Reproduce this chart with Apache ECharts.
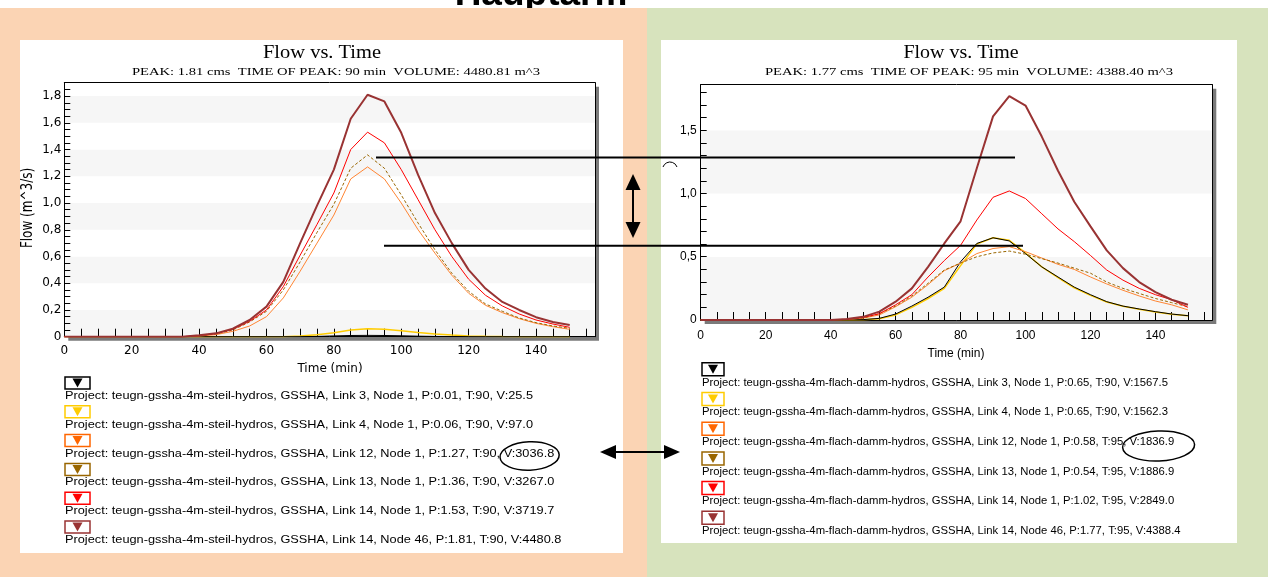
<!doctype html>
<html>
<head>
<meta charset="utf-8">
<title>Hauptarm - Flow vs. Time</title>
<script src="https://cdn.jsdelivr.net/npm/echarts@6/dist/echarts.min.js"></script>
<style>
html, body { margin: 0; padding: 0; background: #fff; }
#chart { width: 1268px; height: 577px; }
</style>
</head>
<body>
<div id="chart"></div>
<script>
// Zeitachse (min)
var times = [0,5,10,15,20,25,30,35,40,45,50,55,60,65,70,75,80,85,90,95,100,105,110,115,120,125,130,135,140,145,150];

// Ganglinien "steil" (links)
var steilL3   = [0,0,0,0,0,0,0,0,0,0,0,0,0,0,0,0.002,0.006,0.009,0.01,0.009,0.007,0.004,0.002,0.001,0,0,0,0,0,0,0];
var steilL4   = [0,0,0,0,0,0,0,0,0,0,0,0,0,0,0.005,0.015,0.03,0.05,0.06,0.055,0.045,0.032,0.02,0.012,0.006,0.003,0.001,0,0,0,0];
var steilL12  = [0,0,0,0,0,0,0,0,0.005,0.015,0.04,0.08,0.15,0.29,0.49,0.70,0.91,1.18,1.27,1.18,1.0,0.80,0.625,0.46,0.325,0.235,0.18,0.135,0.10,0.075,0.055];
var steilL13  = [0,0,0,0,0,0,0,0,0.008,0.02,0.05,0.11,0.19,0.35,0.56,0.78,0.99,1.26,1.36,1.26,1.06,0.85,0.65,0.475,0.34,0.245,0.19,0.14,0.105,0.08,0.063];
var steilL14  = [0,0,0,0,0,0,0,0,0.008,0.022,0.055,0.115,0.20,0.375,0.61,0.84,1.075,1.40,1.53,1.45,1.25,1.025,0.80,0.60,0.43,0.31,0.23,0.17,0.125,0.095,0.07];
var steilL14N = [0,0,0,0,0,0,0,0,0.01,0.025,0.06,0.125,0.225,0.41,0.70,0.98,1.25,1.63,1.81,1.76,1.525,1.21,0.925,0.70,0.50,0.36,0.26,0.20,0.146,0.11,0.088];

// Ganglinien "flach-damm" (rechts)
var flachL3   = [0,0,0,0,0,0,0,0,0,0,0.003,0.013,0.047,0.11,0.18,0.26,0.46,0.605,0.65,0.625,0.525,0.42,0.34,0.26,0.20,0.145,0.11,0.087,0.066,0.047,0.034];
var flachL4   = [0,0,0,0,0,0,0,0,0,0,0.002,0.01,0.04,0.10,0.17,0.25,0.43,0.60,0.65,0.63,0.53,0.42,0.335,0.255,0.195,0.142,0.108,0.085,0.064,0.046,0.033];
var flachL12  = [0,0,0,0,0,0,0,0,0,0.005,0.015,0.04,0.105,0.18,0.28,0.39,0.45,0.525,0.565,0.58,0.54,0.49,0.44,0.40,0.34,0.285,0.235,0.19,0.15,0.12,0.08];
var flachL13  = [0,0,0,0,0,0,0,0,0,0.005,0.015,0.05,0.11,0.19,0.29,0.395,0.45,0.50,0.53,0.545,0.52,0.485,0.45,0.41,0.37,0.30,0.25,0.21,0.17,0.137,0.105];
var flachL14  = [0,0,0,0,0,0,0,0,0,0.005,0.02,0.05,0.12,0.20,0.34,0.47,0.59,0.79,0.97,1.02,0.96,0.84,0.72,0.62,0.51,0.395,0.315,0.25,0.20,0.16,0.10];
var flachL14N = [0,0,0,0,0,0,0,0,0,0.008,0.025,0.066,0.145,0.25,0.42,0.605,0.78,1.2,1.61,1.77,1.695,1.45,1.18,0.935,0.74,0.55,0.41,0.30,0.22,0.16,0.12];

// Legende
var linkNames  = ['Link 3, Node 1', 'Link 4, Node 1', 'Link 12, Node 1', 'Link 13, Node 1', 'Link 14, Node 1', 'Link 14, Node 46'];
var steilStats = ['P:0.01, T:90, V:25.5', 'P:0.06, T:90, V:97.0', 'P:1.27, T:90, V:3036.8', 'P:1.36, T:90, V:3267.0', 'P:1.53, T:90, V:3719.7', 'P:1.81, T:90, V:4480.8'];
var flachStats = ['P:0.65, T:90, V:1567.5', 'P:0.65, T:90, V:1562.3', 'P:0.58, T:95, V:1836.9', 'P:0.54, T:95, V:1886.9', 'P:1.02, T:95, V:2849.0', 'P:1.77, T:95, V:4388.4'];
var lineColors   = ['#000000', '#ffcc00', '#ff8533', '#996600', '#ff0000', '#993333'];
var markerColors = ['#000000', '#ffcc00', '#ff6600', '#996600', '#ff0000', '#993333'];

// Achsenbeschriftung
var xTickLabels      = ['0', '20', '40', '60', '80', '100', '120', '140'];
var yTickLabelsLeft  = ['0', '0,2', '0,4', '0,6', '0,8', '1,0', '1,2', '1,4', '1,6', '1,8'];
var yTickLabelsRight = ['0', '0,5', '1,0', '1,5'];

var steilSeries = [steilL3, steilL4, steilL12, steilL13, steilL14, steilL14N];
var flachSeries = [flachL3, flachL4, flachL12, flachL13, flachL14, flachL14N];

// Plotflaechen (px)
var plotL = { left: 64.3, top: 82.7, width: 530.7, height: 254 };
var plotR = { left: 700.7, top: 84.7, width: 511.6, height: 235.3 };

var mctx = document.createElement('canvas').getContext('2d');
function fitScale(text, font, w) {
	mctx.font = font;
	return w / mctx.measureText(text).width;
}

function labelFmt(labels, step) {
	return function (v) {
		var k = v / step, r = Math.round(k);
		if (Math.abs(k - r) > 1e-6) return '';
		return labels[r] || '';
	};
}

function line(name, data, xi, yi, color, width, type, z) {
	return {
		name: name, type: 'line', xAxisIndex: xi, yAxisIndex: yi,
		data: times.map(function (t, i) { return [t, data[i]]; }),
		symbol: 'none', silent: true, z: z,
		lineStyle: { color: color, width: width, type: type }
	};
}

// Reihenfolge: gelb unter schwarz, dunkelrot oben
var drawOrder = [1, 0, 2, 3, 4, 5];
var widths = [1, 1.5, 1, 1, 1, 2];
var types = ['solid', 'solid', 'solid', [3, 2], 'solid', 'solid'];
var series = [];
drawOrder.forEach(function (k, n) {
	series.push(line(linkNames[k], steilSeries[k], 0, 0, lineColors[k], widths[k], types[k], 3 + n));
	series.push(line(linkNames[k], flachSeries[k], 2, 2, lineColors[k], widths[k], types[k], 3 + n));
});

function mainX(grid, font, margin) {
	return {
		type: 'value', gridIndex: grid, min: 0, max: 157.5, interval: 5,
		axisLine: { onZero: false, lineStyle: { color: '#000', width: 1 } },
		axisTick: { inside: true, length: 8, lineStyle: { color: '#000' } },
		axisLabel: { formatter: labelFmt(xTickLabels, 20), color: '#000', fontFamily: font, fontSize: 12, margin: margin },
		splitLine: { show: false }
	};
}
function topX(grid) {
	return {
		type: 'value', gridIndex: grid, position: 'top', min: 0, max: 157.5,
		axisLine: { show: true, onZero: false, lineStyle: { color: '#000', width: 1 } },
		axisTick: { show: false }, axisLabel: { show: false }, splitLine: { show: false }
	};
}
function mainY(grid, max, interval, labels, step, font, margin) {
	return {
		type: 'value', gridIndex: grid, min: 0, max: max, interval: interval,
		axisLine: { show: true, onZero: false, lineStyle: { color: '#000', width: 1 } },
		axisTick: { inside: true, length: 6, lineStyle: { color: '#000' } },
		axisLabel: { formatter: labelFmt(labels, step), color: '#000', fontFamily: font, fontSize: 12, margin: margin },
		splitLine: { show: false }
	};
}
function bandY(grid, max, step) {
	return {
		type: 'value', gridIndex: grid, position: 'right', min: 0, max: max, interval: step,
		axisLine: { show: true, onZero: false, lineStyle: { color: '#000', width: 1 } },
		axisTick: { show: false }, axisLabel: { show: false }, splitLine: { show: false },
		splitArea: { show: true, areaStyle: { color: ['#f6f6f6', '#ffffff'] } }
	};
}

var elements = [];
// Hintergrund
elements.push({ type: 'text', x: 541, y: 13, z: -20, style: { text: 'Hauptarm', font: 'bold 37px "Liberation Sans"', fill: '#000', align: 'center', verticalAlign: 'bottom' } });
elements.push({ type: 'rect', z: -10, shape: { x: 0, y: 8, width: 648, height: 569 }, style: { fill: '#fbd4b4' } });
elements.push({ type: 'rect', z: -10, shape: { x: 647, y: 8, width: 621, height: 569 }, style: { fill: '#d7e3bd' } });
elements.push({ type: 'rect', z: -9, shape: { x: 20, y: 40, width: 603, height: 513 }, style: { fill: '#fff' } });
elements.push({ type: 'rect', z: -9, shape: { x: 661, y: 40, width: 576, height: 503 }, style: { fill: '#fff' } });
// Schatten der Plotflaechen
[plotL, plotR].forEach(function (p) {
	elements.push({ type: 'rect', z: -8, shape: { x: p.left + 4, y: p.top + 4, width: p.width, height: p.height }, style: { fill: '#7a7a7a' } });
});

function addText(str, x, y, font, target, align, scale, extra) {
	var s = scale || fitScale(str, font, target);
	var el = { type: 'text', x: x, y: y, scaleX: s, z: 50, style: { text: str, font: font, fill: '#000', align: align, verticalAlign: 'middle' } };
	if (extra) for (var k in extra) el[k] = extra[k];
	elements.push(el);
	return s;
}

// Titel
addText('Flow vs. Time', 322, 53, '18px "Liberation Serif"', 118, 'center');
addText('PEAK: 1.81 cms  TIME OF PEAK: 90 min  VOLUME: 4480.81 m^3', 336, 72.5, '11px "Liberation Serif"', 408, 'center');
addText('Flow vs. Time', 961, 53, '18px "Liberation Serif"', 115, 'center');
addText('PEAK: 1.77 cms  TIME OF PEAK: 95 min  VOLUME: 4388.40 m^3', 969, 72.5, '11px "Liberation Serif"', 408, 'center');

// Achsentitel
addText('Time (min)', 330, 369, '12px "DejaVu Sans"', 0, 'center', 1);
addText('Time (min)', 956, 354, '12px "Liberation Sans"', 0, 'center', 1);
addText('Flow (m^3/s)', 28.5, 208, '12px "DejaVu Sans"', 0, 'center', 1, { rotation: Math.PI / 2, scaleY: 1.25 });

// Legenden
function addLegend(proj, stats, x0, mky, mkw, mkh, ty, step, target) {
	var font = '11px "Liberation Sans"';
	var s = fitScale('Project: ' + proj + ', GSSHA, ' + linkNames[0] + ', ' + stats[0], font, target);
	for (var i = 0; i < linkNames.length; i++) {
		var cy = mky + i * step, cx = x0 + mkw / 2;
		elements.push({ type: 'rect', z: 50, shape: { x: x0, y: cy - mkh / 2, width: mkw, height: mkh }, style: { fill: '#fff', stroke: markerColors[i], lineWidth: 1.5 } });
		elements.push({ type: 'polygon', z: 51, shape: { points: [[cx - 5, cy - 4.5], [cx + 5, cy - 4.5], [cx, cy + 4.5]] }, style: { fill: markerColors[i] } });
		addText('Project: ' + proj + ', GSSHA, ' + linkNames[i] + ', ' + stats[i], x0, ty + i * step, font, 0, 'left', s);
	}
}
addLegend('teugn-gssha-4m-steil-hydros', steilStats, 65, 383, 25, 12, 396, 28.8, 468);
addLegend('teugn-gssha-4m-flach-damm-hydros', flachStats, 702, 369.3, 22, 13, 382.5, 29.7, 466);

// Markierungen
function hline(x1, x2, y) {
	elements.push({ type: 'line', z: 100, shape: { x1: x1, y1: y, x2: x2, y2: y }, style: { stroke: '#000', lineWidth: 2 } });
}
hline(376, 1015, 157.5);
hline(384, 1023, 245.7);
elements.push({ type: 'line', z: 100, shape: { x1: 633, y1: 186, x2: 633, y2: 226 }, style: { stroke: '#000', lineWidth: 2 } });
elements.push({ type: 'polygon', z: 100, shape: { points: [[633, 174], [625.5, 190], [640.5, 190]] }, style: { fill: '#000' } });
elements.push({ type: 'polygon', z: 100, shape: { points: [[633, 238], [625.5, 222], [640.5, 222]] }, style: { fill: '#000' } });
elements.push({ type: 'line', z: 100, shape: { x1: 612, y1: 452, x2: 668, y2: 452 }, style: { stroke: '#000', lineWidth: 2 } });
elements.push({ type: 'polygon', z: 100, shape: { points: [[600, 452], [616, 445], [616, 459]] }, style: { fill: '#000' } });
elements.push({ type: 'polygon', z: 100, shape: { points: [[680, 452], [664, 445], [664, 459]] }, style: { fill: '#000' } });
elements.push({ type: 'ellipse', z: 100, x: 529.6, y: 456, rotation: 0.04, shape: { cx: 0, cy: 0, rx: 29.6, ry: 14.2 }, style: { fill: null, stroke: '#000', lineWidth: 1.5 } });
elements.push({ type: 'ellipse', z: 100, x: 1158.6, y: 446, rotation: 0.04, shape: { cx: 0, cy: 0, rx: 36, ry: 15 }, style: { fill: null, stroke: '#000', lineWidth: 1.5 } });
elements.push({ type: 'arc', z: 100, shape: { cx: 670, cy: 169.4, r: 7.4, startAngle: -Math.PI / 2 - 1.24, endAngle: -Math.PI / 2 + 1.24, clockwise: true }, style: { stroke: '#000', fill: null, lineWidth: 1 } });

function gridOf(p) {
	return { left: p.left, top: p.top, width: p.width, height: p.height, show: true, backgroundColor: '#fff', borderWidth: 0 };
}

var option = {
	animation: false,
	backgroundColor: '#fff',
	grid: [gridOf(plotL), gridOf(plotR)],
	xAxis: [mainX(0, 'DejaVu Sans', 8), topX(0), mainX(1, 'Liberation Sans', 10), topX(1)],
	yAxis: [
		mainY(0, 1.9, 0.05, yTickLabelsLeft, 0.2, 'DejaVu Sans', 3),
		bandY(0, 1.9, 0.2),
		mainY(1, 1.86, 0.1, yTickLabelsRight, 0.5, 'Liberation Sans', 4),
		bandY(1, 1.86, 0.5)
	],
	series: series,
	graphic: { elements: elements }
};

var myChart = echarts.init(document.getElementById('chart'));
myChart.setOption(option);
</script>
</body>
</html>
